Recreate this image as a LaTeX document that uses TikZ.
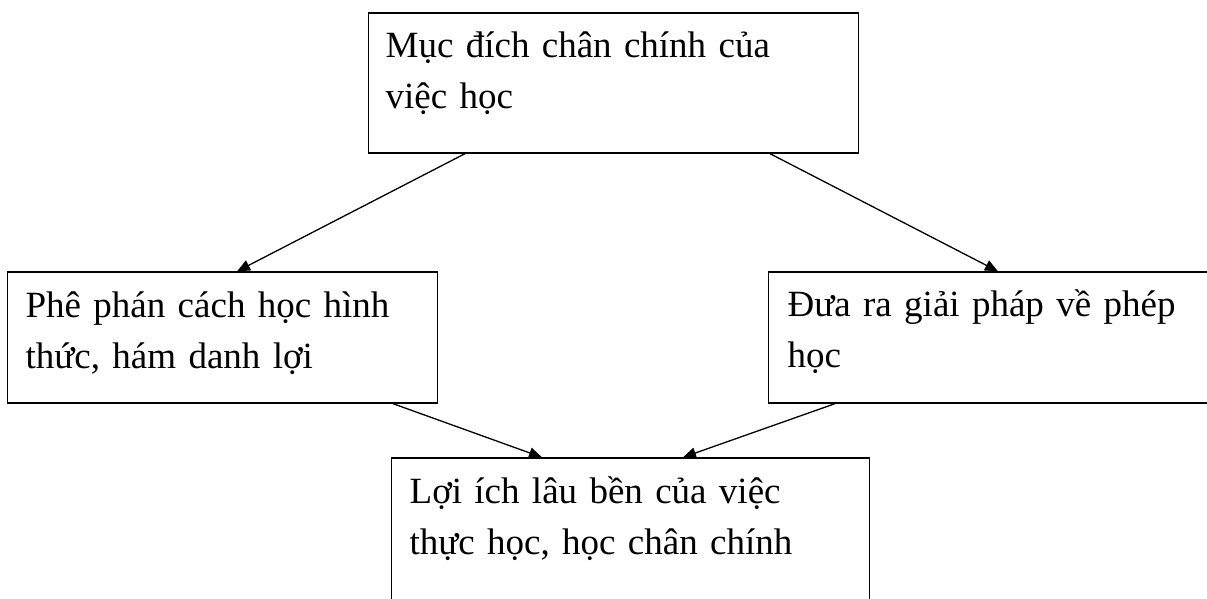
\documentclass[tikz,border=0pt]{standalone}
\usepackage{fontspec}
\setmainfont{Liberation Serif}
\usetikzlibrary{arrows.meta}
\begin{document}
\begin{tikzpicture}[x=1pt,y=1pt,
  box/.style={draw=black, line width=1.3pt, anchor=base west, align=left,
    inner ysep=0pt, font=\fontsize{37}{51}\selectfont},
  conn/.style={draw=black, line width=1.3pt, -{Triangle[length=13pt,width=11pt]}}]
\clip (0,0) rectangle (1207,-598);
\fill[white] (0,0) rectangle (1207,-598);
\node[box, inner xsep=17pt, text width=456pt, text height=44pt, text depth=96pt]
  (top) at (368,-57) {Mục đích chân chính của\\việc học};
\node[box, inner xsep=18pt, text width=394pt, text height=45pt, text depth=86pt]
  (left) at (7,-317) {Phê phán cách học hình\\thức, hám danh lợi};
\node[box, inner xsep=19pt, text width=409pt, text height=44pt, text depth=87pt]
  (right) at (768,-316) {Đưa ra giải pháp về phép\\học};
\node[box, inner xsep=18pt, text width=442pt, text height=45pt, text depth=117pt]
  (bot) at (391,-503) {Lợi ích lâu bền của việc\\thực học, học chân chính};
\draw[conn] ([xshift=97pt]top.south west) -- ([xshift=230pt]left.north west);
\draw[conn] ([xshift=402pt]top.south west) -- ([xshift=230pt]right.north west);
\draw[conn] ([xshift=386pt]left.south west) -- ([xshift=151pt]bot.north west);
\draw[conn] ([xshift=67pt]right.south west) -- ([xshift=292pt]bot.north west);
\end{tikzpicture}
\end{document}
